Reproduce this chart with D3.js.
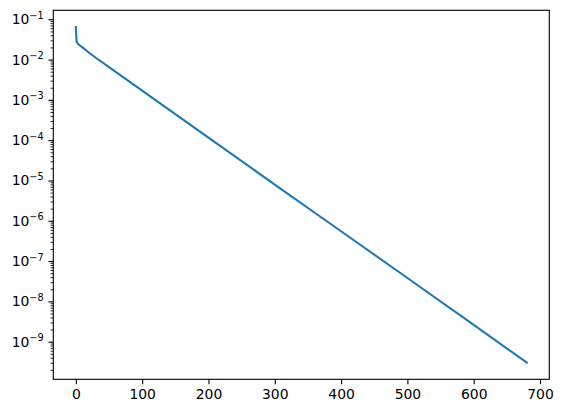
<!DOCTYPE html>
<html>
<head>
<meta charset="utf-8">
<script src="https://cdn.jsdelivr.net/npm/d3@7"></script>
<style>
  body { margin: 0; background: #fff; }
  svg { display: block; }
  .tick text { font-family: "DejaVu Sans", sans-serif; font-size: 13.9px; fill: #000; }
</style>
</head>
<body>
<script>
// values (x = iteration, y = residual, log scale)
const iterations = [0, 1, 2, 5, 10, 20, 30, 50, 100, 200, 300, 400, 500, 600, 680]
const residuals = [0.064, 0.0295, 0.026, 0.023, 0.020, 0.0148, 0.0111, 0.00646,
  1.70e-3, 1.16e-4, 7.9e-6, 5.5e-7, 3.8e-8, 2.6e-9, 3.04e-10]
const xTicks = [0, 100, 200, 300, 400, 500, 600, 700]
const yDecades = [-9, -8, -7, -6, -5, -4, -3, -2, -1]

const width = 563
const height = 413
const margin = { top: 10.3, right: 13.7, bottom: 33.7, left: 53.3 }
const plotW = width - margin.left - margin.right
const plotH = height - margin.top - margin.bottom

const data = iterations.map((x, i) => ({ x: x, y: residuals[i] }))

// matplotlib style 5% margins (in log space for y)
const xExt = d3.extent(iterations)
const xPad = (xExt[1] - xExt[0]) * 0.05
const lyExt = d3.extent(residuals).map(Math.log10)
const lyPad = (lyExt[1] - lyExt[0]) * 0.05

const x = d3.scaleLinear()
  .domain([xExt[0] - xPad, xExt[1] + xPad])
  .range([0, plotW])

const y = d3.scaleLog()
  .domain([Math.pow(10, lyExt[0] - lyPad), Math.pow(10, lyExt[1] + lyPad)])
  .range([plotH, 0])

const svg = d3.select("body").append("svg")
  .attr("width", width)
  .attr("height", height)

const g = svg.append("g")
  .attr("transform", "translate(" + margin.left + "," + margin.top + ")")

// line
const line = d3.line()
  .x(d => x(d.x))
  .y(d => y(d.y))

g.append("path")
  .datum(data)
  .attr("fill", "none")
  .attr("stroke", "#1f77b4")
  .attr("stroke-width", 2.08)
  .attr("stroke-linejoin", "round")
  .attr("stroke-linecap", "square")
  .attr("d", line)

// x axis
const xAxis = g.append("g")
  .attr("transform", "translate(0," + plotH + ")")
  .call(d3.axisBottom(x).tickValues(xTicks).tickSize(4.86).tickPadding(4.86).tickFormat(d3.format("d")))
xAxis.select(".domain").remove()
xAxis.selectAll(".tick line").attr("stroke", "#000").attr("stroke-width", 1.11)

// y axis: major decades + minor ticks
const dom = y.domain()
const minor = []
for (let e = -11; e <= 0; e++) {
  for (let m = 2; m <= 9; m++) {
    const v = m * Math.pow(10, e)
    if (v >= dom[0] && v <= dom[1]) minor.push(v)
  }
}

const yMinor = g.append("g")
  .call(d3.axisLeft(y).tickValues(minor).tickSize(2.78).tickFormat(""))
yMinor.select(".domain").remove()
yMinor.selectAll(".tick line").attr("stroke", "#000").attr("stroke-width", 0.83)

const yAxis = g.append("g")
  .call(d3.axisLeft(y).tickValues(yDecades.map(e => Math.pow(10, e)))
    .tickSize(4.86).tickPadding(4.86).tickFormat(""))
yAxis.select(".domain").remove()
yAxis.selectAll(".tick line").attr("stroke", "#000").attr("stroke-width", 1.11)

// 10^n labels with superscript
yAxis.selectAll(".tick").each(function(d) {
  const e = Math.round(Math.log10(d))
  const t = d3.select(this).select("text")
    .attr("x", -9.7)
    .attr("dy", "0.32em")
    .attr("text-anchor", "end")
  t.append("tspan").text("10")
  t.append("tspan")
    .attr("dy", "-0.55em")
    .style("font-size", "9.7px")
    .text("\u2212" + Math.abs(e))
})

// frame
g.append("rect")
  .attr("width", plotW)
  .attr("height", plotH)
  .attr("fill", "none")
  .attr("stroke", "#000")
  .attr("stroke-width", 1.11)
</script>
</body>
</html>
